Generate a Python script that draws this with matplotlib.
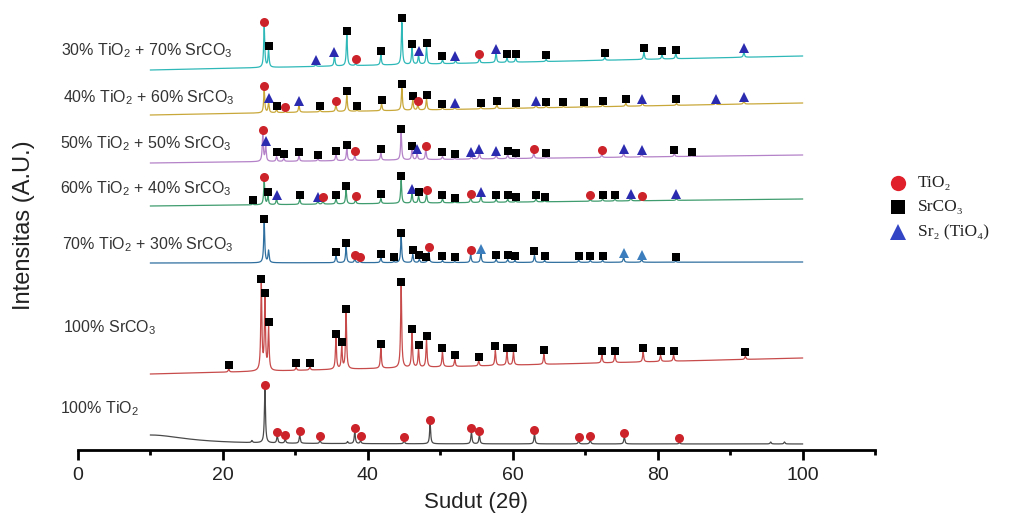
import numpy as np
import matplotlib
matplotlib.use("Agg")
import matplotlib.pyplot as plt
from matplotlib.ticker import FixedLocator

plt.rcParams['font.family'] = ['Liberation Sans', 'DejaVu Sans']
plt.rcParams['mathtext.fontset'] = 'custom'
plt.rcParams['mathtext.rm'] = 'Liberation Sans'

# ---- data (2-theta in degrees, intensity in arbitrary units) ----
# each sample: baseline at 10 deg and at 100 deg, peaks (position, height), phase markers
# phase codes: T = TiO2, S = SrCO3, R = Sr2(TiO4)

labels = [
    r"30% TiO$_\mathrm{2}$ + 70% SrCO$_\mathrm{3}$",
    r"40% TiO$_\mathrm{2}$ + 60% SrCO$_\mathrm{3}$",
    r"50% TiO$_\mathrm{2}$ + 50% SrCO$_\mathrm{3}$",
    r"60% TiO$_\mathrm{2}$ + 40% SrCO$_\mathrm{3}$",
    r"70% TiO$_\mathrm{2}$ + 30% SrCO$_\mathrm{3}$",
    r"100% SrCO$_\mathrm{3}$",
    r"100% TiO$_\mathrm{2}$",
]

line_colors = ['#2fb8b8', '#c9a83a', '#b482c8', '#3f9c6e', '#2f6f9f', '#c84b4b', '#4a4a4a']
tri_colors = ['#2b2bb0', '#2b2bb0', '#2b2bb0', '#2b2bb0', '#3b7dbd', '#2b2bb0', '#2b2bb0']

baselines = [(380, 394), (335, 347), (287, 295), (244, 251), (187, 188), (76, 92), (6, 6)]

# broad amorphous background of the pure TiO2 sample (centre, height, width)
tio2_hump = (10.0, 9.0, 6.0)

peaks_30 = [(25.7, 41), (26.3, 17), (32.8, 2), (35.4, 10), (37.1, 31), (38.3, 2), (41.8, 10),
            (44.7, 42), (46.1, 16), (47.0, 9), (48.1, 17), (50.3, 4), (52.1, 3), (55.4, 5),
            (57.7, 10), (59.2, 4), (60.4, 4), (64.6, 2), (72.7, 3), (78.1, 7), (80.6, 4),
            (82.5, 5), (91.9, 5)]
marks_30 = [(25.7, 'T'), (26.3, 'S'), (32.8, 'R'), (35.4, 'R'), (37.1, 'S'), (38.3, 'T'),
            (41.8, 'S'), (44.7, 'S'), (46.1, 'S'), (47.0, 'R'), (48.1, 'S'), (50.3, 'S'),
            (52.1, 'R'), (55.4, 'T'), (57.7, 'R'), (59.2, 'S'), (60.4, 'S'), (64.6, 'S'),
            (72.7, 'S'), (78.1, 'S'), (80.6, 'S'), (82.5, 'S'), (91.9, 'R')]

peaks_40 = [(25.7, 23), (26.3, 10), (27.4, 3), (28.6, 1), (30.5, 7), (33.4, 2), (35.6, 7),
            (37.1, 16), (38.5, 1), (41.9, 7), (44.7, 22), (46.2, 10), (46.9, 5), (48.1, 11),
            (50.3, 2), (52.0, 2), (55.6, 2), (57.8, 4), (60.4, 1), (63.2, 3), (64.6, 2),
            (67.0, 1), (69.8, 1), (72.4, 2), (75.6, 3), (77.9, 3), (82.6, 2), (88.0, 2), (91.9, 3)]
marks_40 = [(25.7, 'T'), (26.3, 'R'), (27.4, 'S'), (28.6, 'T'), (30.5, 'R'), (33.4, 'S'),
            (35.6, 'T'), (37.1, 'S'), (38.5, 'S'), (41.9, 'S'), (44.7, 'S'), (46.2, 'S'),
            (46.9, 'T'), (48.1, 'S'), (50.3, 'S'), (52.0, 'R'), (55.6, 'S'), (57.8, 'S'),
            (60.4, 'S'), (63.2, 'R'), (64.6, 'S'), (67.0, 'S'), (69.8, 'S'), (72.4, 'S'),
            (75.6, 'S'), (77.9, 'R'), (82.6, 'S'), (88.0, 'R'), (91.9, 'R')]

peaks_50 = [(25.5, 27), (25.9, 15), (27.4, 5), (28.4, 3), (30.5, 5), (33.1, 2), (35.6, 6),
            (37.1, 12), (38.2, 5), (41.8, 7), (44.6, 27), (46.1, 10), (46.8, 6), (48.0, 10),
            (50.3, 3), (52.0, 1), (54.3, 3), (55.4, 6), (57.7, 4), (59.3, 4), (60.4, 1),
            (62.9, 5), (64.6, 1), (72.3, 3), (75.3, 4), (77.8, 3), (82.3, 3), (84.7, 0.5)]
marks_50 = [(25.5, 'T'), (25.9, 'R'), (27.4, 'S'), (28.4, 'S'), (30.5, 'S'), (33.1, 'S'),
            (35.6, 'S'), (37.1, 'S'), (38.2, 'T'), (41.8, 'S'), (44.6, 'S'), (46.1, 'S'),
            (46.8, 'R'), (48.0, 'T'), (50.3, 'S'), (52.0, 'S'), (54.3, 'R'), (55.4, 'R'),
            (57.7, 'R'), (59.3, 'S'), (60.4, 'S'), (62.9, 'T'), (64.6, 'S'), (72.3, 'T'),
            (75.3, 'R'), (77.8, 'R'), (82.3, 'S'), (84.7, 'S')]

peaks_60 = [(24.1, 1), (25.7, 24), (26.2, 8), (27.4, 6), (30.6, 5), (33.1, 3), (33.8, 3),
            (35.6, 5), (37.0, 14), (38.3, 4), (41.8, 5), (44.6, 23), (46.1, 10), (47.0, 7),
            (48.1, 9), (50.3, 4), (52.0, 1), (54.2, 5), (55.6, 6), (57.7, 3), (59.3, 3),
            (60.4, 1), (63.2, 3), (64.4, 1), (70.7, 2), (72.4, 2), (74.1, 2), (76.3, 3),
            (77.8, 1), (82.6, 2)]
marks_60 = [(24.1, 'S'), (25.7, 'T'), (26.2, 'S'), (27.4, 'R'), (30.6, 'S'), (33.1, 'R'),
            (33.8, 'T'), (35.6, 'S'), (37.0, 'S'), (38.3, 'T'), (41.8, 'S'), (44.6, 'S'),
            (46.1, 'R'), (47.0, 'S'), (48.1, 'T'), (50.3, 'S'), (52.0, 'S'), (54.2, 'T'),
            (55.6, 'R'), (57.7, 'S'), (59.3, 'S'), (60.4, 'S'), (63.2, 'S'), (64.4, 'S'),
            (70.7, 'T'), (72.4, 'S'), (74.1, 'S'), (76.3, 'R'), (77.8, 'T'), (82.6, 'R')]

peaks_70 = [(25.7, 40), (26.3, 12), (35.6, 7), (37.0, 16), (38.2, 4), (38.9, 1.5), (41.8, 5),
            (43.6, 1), (44.6, 26), (46.2, 8), (47.1, 3), (48.4, 12), (50.3, 2), (52.0, 1),
            (54.2, 8), (55.6, 9), (57.7, 3), (59.3, 3), (60.3, 2), (63.0, 7), (64.4, 2),
            (69.1, 2), (70.7, 2), (72.4, 2), (75.3, 5), (77.8, 3), (82.5, 1)]
marks_70 = [(25.7, 'S'), (35.6, 'S'), (37.0, 'S'), (38.2, 'T'), (38.9, 'T'), (41.8, 'S'),
            (43.6, 'S'), (44.6, 'S'), (46.2, 'S'), (47.1, 'S'), (48.0, 'S'), (48.4, 'T'),
            (50.3, 'S'), (52.0, 'S'), (54.2, 'T'), (55.6, 'R'), (57.7, 'S'), (59.3, 'S'),
            (60.3, 'S'), (63.0, 'S'), (64.4, 'S'), (69.1, 'S'), (70.7, 'S'), (72.4, 'S'),
            (75.3, 'R'), (77.8, 'R'), (82.5, 'S')]

peaks_sr = [(20.8, 3), (25.3, 86), (25.8, 70), (26.3, 42), (30.1, 3), (32.0, 3), (35.6, 31),
            (36.4, 22), (37.0, 56), (41.8, 20), (44.6, 82), (46.1, 34), (47.0, 18), (48.1, 27),
            (50.3, 15), (52.0, 7), (55.3, 5), (57.6, 15), (59.2, 13), (60.1, 13), (64.3, 10),
            (72.3, 8), (74.1, 8), (78.0, 10), (80.4, 6), (82.2, 6), (92.1, 3)]
marks_sr = [(p, 'S') for p, h in peaks_sr]

peaks_ti = [(24.0, 2), (25.8, 54), (27.5, 7), (28.6, 4), (30.6, 8), (33.4, 3), (37.2, 2),
            (38.2, 12), (39.0, 3), (45.0, 3), (48.6, 20), (54.3, 12), (55.4, 9), (63.0, 10),
            (69.1, 3), (70.7, 4), (75.4, 7), (83.0, 1.5), (95.6, 2), (97.5, 2)]
marks_ti = [(25.8, 'T'), (27.5, 'T'), (28.6, 'T'), (30.6, 'T'), (33.4, 'T'), (38.2, 'T'),
            (39.0, 'T'), (45.0, 'T'), (48.6, 'T'), (54.3, 'T'), (55.4, 'T'), (63.0, 'T'),
            (69.1, 'T'), (70.7, 'T'), (75.4, 'T'), (83.0, 'T')]

all_peaks = [peaks_30, peaks_40, peaks_50, peaks_60, peaks_70, peaks_sr, peaks_ti]
all_marks = [marks_30, marks_40, marks_50, marks_60, marks_70, marks_sr, marks_ti]

legend_labels = ['TiO\u2082', 'SrCO\u2083', 'Sr\u2082 (TiO\u2084)']


def pattern(x, base, peaks, width=0.09):
    """Build a diffraction trace from its baseline and list of peaks."""
    y = base[0] + (base[1] - base[0]) * (x - 10) / 90.0
    for c, h in peaks:
        y = y + h * width**2 / ((x - c)**2 + width**2)
    return y


two_theta = np.arange(10.0, 100.001, 0.01)

fig = plt.figure(figsize=(10.12, 5.16), dpi=100)
ax = fig.add_axes([78 / 1012, 66 / 516, 797 / 1012, 450 / 516])

marker_style = {
    'T': dict(marker='o', color='#cc2229', ms=6.5),
    'S': dict(marker='s', color='black', ms=6.0),
    'R': dict(marker='^', color='#2b2bb0', ms=7.0),
}

for i in range(len(labels)):
    y = pattern(two_theta, baselines[i], all_peaks[i])
    if i == len(labels) - 1:
        c, h, w = tio2_hump
        y = y + h * w**2 / ((two_theta - c)**2 + w**2)
    ax.plot(two_theta, y, color=line_colors[i], lw=0.9, zorder=2)

    for pos, phase in all_marks[i]:
        win = np.abs(two_theta - pos) <= 0.12
        ym = y[win].max() + 4.0
        st = dict(marker_style[phase])
        if phase == 'R':
            st['color'] = tri_colors[i]
        ax.plot([pos], [ym], linestyle='none', marker=st['marker'], ms=st['ms'],
                color=st['color'], markeredgewidth=0, zorder=3, clip_on=False)

# sample names on the left (baseline position in axis units)
label_x = [-2.4, -2.1, -2.5, -2.5, -2.2, -2.1, -2.5]
label_y = [395, 348, 302, 257, 201, 118, 37]
for i, lab in enumerate(labels):
    ax.text(label_x[i], label_y[i], lab, fontsize=11.5, color='#333333',
            ha='left', va='baseline', clip_on=False)

ax.set_xlim(0, 110)
ax.set_ylim(0, 450)
for s in ['left', 'right', 'top']:
    ax.spines[s].set_visible(False)
ax.spines['bottom'].set_linewidth(2)
ax.yaxis.set_visible(False)
ax.xaxis.set_major_locator(FixedLocator([0, 20, 40, 60, 80, 100]))
ax.xaxis.set_minor_locator(FixedLocator([10, 30, 50, 70, 90, 110]))
ax.tick_params(axis='x', which='major', length=7, width=2, labelsize=14,
               pad=5, colors='black', labelcolor='#222222')
ax.tick_params(axis='x', which='minor', length=3.5, width=2)
ax.set_xlabel('Sudut (2\u03b8)', fontsize=16, color='#222222', labelpad=6)

fig.text(24 / 1012, 1 - 225 / 516, 'Intensitas (A.U.)', rotation=90, fontsize=17,
         color='#222222', ha='center', va='center')

# legend drawn in pixel coordinates of the figure
lax = fig.add_axes([0, 0, 1, 1], facecolor='none')
lax.set_xlim(0, 1012)
lax.set_ylim(516, 0)
lax.axis('off')
leg_y = [183, 207, 232]
leg_marker = [('o', '#e0202a', 11), ('s', 'black', 10), ('^', '#3344c4', 12)]
for j, lab in enumerate(legend_labels):
    m, c, s = leg_marker[j]
    lax.plot([898], [leg_y[j]], marker=m, color=c, ms=s, markeredgewidth=0, linestyle='none')
    lax.text(918, leg_y[j], lab, fontsize=12.5, family=['Liberation Serif', 'DejaVu Serif'],
             color='#222222', ha='left', va='center')

fig.savefig('out.png', dpi=100)
